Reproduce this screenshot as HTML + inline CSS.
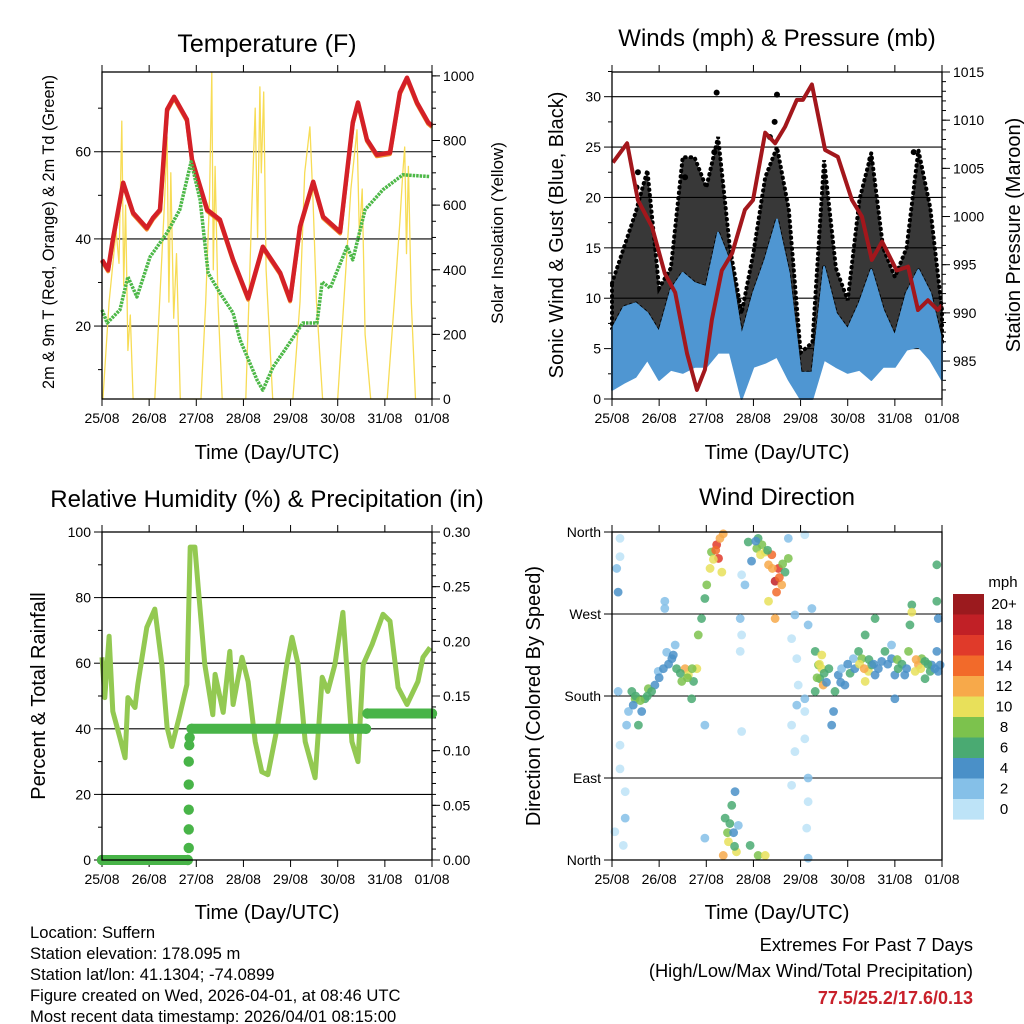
<!DOCTYPE html>
<html><head><meta charset="utf-8">
<style>
body{margin:0;background:#fff}
svg{display:block;font-family:"Liberation Sans",Arial,sans-serif}
</style></head>
<body>
<svg id="c" width="1024" height="1024" viewBox="0 0 1024 1024">
<rect x="0" y="0" width="1024" height="1024" fill="#fff"/>
<text x="267" y="52" font-size="25" text-anchor="middle">Temperature (F)</text>
<text x="777" y="46" font-size="24" text-anchor="middle">Winds (mph) &amp; Pressure (mb)</text>
<text x="267" y="507" font-size="24" text-anchor="middle">Relative Humidity (%) &amp; Precipitation (in)</text>
<text x="777" y="505" font-size="24" text-anchor="middle">Wind Direction</text>
<text x="267" y="459" font-size="20" text-anchor="middle">Time (Day/UTC)</text>
<text x="777" y="459" font-size="20" text-anchor="middle">Time (Day/UTC)</text>
<text x="267" y="919" font-size="20" text-anchor="middle">Time (Day/UTC)</text>
<text x="777" y="919" font-size="20" text-anchor="middle">Time (Day/UTC)</text>
<text transform="translate(54,232) rotate(-90)" font-size="16.3" text-anchor="middle">2m &amp; 9m T (Red, Orange) &amp; 2m Td (Green)</text>
<text transform="translate(503,233) rotate(-90)" font-size="17" text-anchor="middle">Solar Insolation (Yellow)</text>
<text transform="translate(563,235) rotate(-90)" font-size="20" text-anchor="middle">Sonic Wind &amp; Gust (Blue, Black)</text>
<text transform="translate(1020,235) rotate(-90)" font-size="20" text-anchor="middle">Station Pressure (Maroon)</text>
<text transform="translate(45,696) rotate(-90)" font-size="20" text-anchor="middle">Percent &amp; Total Rainfall</text>
<text transform="translate(540,696) rotate(-90)" font-size="20" text-anchor="middle">Direction (Colored By Speed)</text>
<text x="1003" y="587" font-size="15" text-anchor="middle">mph</text>
<g font-size="16.6">
<text x="30" y="938">Location: Suffern</text>
<text x="30" y="959">Station elevation: 178.095 m</text>
<text x="30" y="980">Station lat/lon: 41.1304; -74.0899</text>
<text x="30" y="1001">Figure created on Wed, 2026-04-01, at 08:46 UTC</text>
<text x="30" y="1022">Most recent data timestamp: 2026/04/01 08:15:00</text>
</g>
<text x="973" y="951" font-size="18.3" text-anchor="end">Extremes For Past 7 Days</text>
<text x="973" y="977" font-size="18.3" text-anchor="end">(High/Low/Max Wind/Total Precipitation)</text>
<text x="973" y="1004" font-size="18" font-weight="bold" fill="#c8202a" text-anchor="end">77.5/25.2/17.6/0.13</text>
</svg>
<script>
// ---------- data ----------
const dayLabels=['25/08','26/08','27/08','28/08','29/08','30/08','31/08','01/08'];
const tempTime=[0,0.13,0.23,0.45,0.66,0.95,1.08,1.23,1.38,1.53,1.80,1.91,2.23,2.50,2.78,3.10,3.41,3.78,3.99,4.20,4.48,4.69,5.05,5.32,5.43,5.62,5.83,6.11,6.32,6.47,6.68,6.92,7.0];
const tempF=[35.2,32.9,39.8,52.9,46,42.5,44.8,46.7,69.7,72.6,67.4,58.2,46.7,44.4,35.2,26.4,38.2,32.2,26,42.8,53.1,45.1,41.6,66.7,71.3,62.8,59.3,59.8,73.6,77,71.3,66.7,66];
const dewTime=[0,0.11,0.38,0.55,0.74,1.02,1.38,1.65,1.89,2.08,2.25,2.50,2.78,2.93,3.29,3.41,3.63,3.92,4.26,4.56,4.67,4.84,5.20,5.32,5.58,5.96,6.38,6.96];
const dewF=[23.7,20.7,23.7,31.3,26.7,35.9,41.4,46.7,57.7,49,32.2,27.6,23,16.8,7.6,5.3,10.6,15.2,20.7,20.7,30.1,28.7,38.2,35.2,46.7,51.3,54.7,54.3];
const solarTime=[0.02,0.15,0.30,0.36,0.42,0.46,0.50,0.55,0.60,0.66,1.12,1.25,1.33,1.38,1.42,1.46,1.52,1.58,1.66,2.10,2.20,2.28,2.33,2.36,2.40,2.46,2.55,3.05,3.18,3.25,3.30,3.35,3.38,3.43,3.48,3.55,3.62,4.05,4.20,4.30,4.41,4.48,4.55,4.68,5.00,5.15,5.28,5.41,5.46,5.52,5.58,5.70,6.05,6.20,6.32,6.38,6.42,6.46,6.50,6.56,6.65];
const solarW=[0,300,520,420,860,350,600,150,260,0,0,380,620,811,300,700,250,450,0,0,300,620,1009,400,720,300,0,0,600,900,500,966,700,950,400,200,0,0,300,700,842,600,300,0,0,350,650,833,500,650,200,0,0,300,550,700,780,450,720,300,0];
const windTime=[0,0.25,0.5,0.75,1,1.25,1.5,1.75,2,2.25,2.5,2.75,3,3.25,3.5,3.75,4,4.25,4.5,4.75,5,5.25,5.5,5.75,6,6.25,6.5,6.75,7];
const gustHigh=[11.5,15,18.5,22.7,11,13,24,24,21,26,15,8.5,14.5,22,25,18.8,4.6,5.6,23.7,13,9.8,19.8,24.4,15,12.1,15,24.7,19,8.8];
const windHigh=[6.9,9.1,9.5,8.5,6.6,10.8,12.5,11.5,11.1,16.5,13.5,6.2,10.5,13.8,17.8,12.5,2.6,2.6,13.1,8.5,6.9,9.5,12.8,8.8,6.2,10.5,12.8,10.5,5.6];
const windLow=[0.9,1.6,2.2,3.9,1.9,2.9,2.6,3.2,3.2,4.6,4.6,0,3.2,3.6,4.2,1.9,0,0,3.9,3.2,2.6,2.9,1.9,3.2,3.2,4.9,5.2,3.9,1.9];
const gustPeakTime=[2.22,2.17,3.50,3.45,5.48,6.40,0.55,0.52,3.35,1.55];
const gustPeak=[30.4,24.5,30.2,27.5,23.8,24.5,22.5,21,26,22];
const presTime=[0.02,0.32,0.55,0.85,1.12,1.34,1.59,1.80,1.97,2.12,2.33,2.55,2.82,2.99,3.25,3.46,3.67,3.92,4.05,4.24,4.52,4.79,5.09,5.30,5.51,5.73,6.04,6.28,6.49,6.70,6.91,7.0];
const presMb=[1005.6,1007.6,1001.7,998.9,994.1,992.1,985.8,982,984.1,989.3,994.4,996.2,1000.7,1001.7,1008.7,1007.6,1009.3,1012.1,1012.1,1013.7,1006.9,1006.2,1001.7,1000,995.5,997.4,994.4,994.8,990.3,991.3,990.3,990.8];
const rhTime=[0,0.06,0.15,0.23,0.38,0.49,0.55,0.70,0.76,0.95,1.12,1.27,1.38,1.48,1.65,1.80,1.87,1.97,2.04,2.18,2.35,2.40,2.57,2.71,2.78,2.97,3.10,3.25,3.39,3.52,3.73,3.92,4.03,4.16,4.31,4.52,4.67,4.79,4.94,5.11,5.30,5.43,5.54,5.73,5.96,6.11,6.28,6.47,6.70,6.81,6.96];
const rhPct=[61.8,49.5,68.2,45.3,37.3,31.2,49.5,46.5,53.5,70.9,76.5,59.6,40.4,34.6,44.3,53.5,95.4,95.4,83.2,59.6,44.3,56.6,45,63.6,47.4,61.8,54.4,36.1,26.9,26,41.3,59.6,67.9,59.6,36.1,25.1,55.7,51.4,59.6,75.5,36.1,30,59.6,65.7,74.9,72.8,52.6,47.4,54.4,61.8,64.8];
const precipTime=[0,1.82,1.84,1.84,1.84,1.84,1.84,1.85,1.86,1.90,5.60,5.63,7.0];
const precipIn=[0,0,0.011,0.028,0.046,0.069,0.09,0.105,0.112,0.12,0.12,0.134,0.134];
const dirTime=[0.10,0.13,0.17,0.17,0.13,0.17,0.17,0.28,0.28,0.24,0.06,0.31,0.35,0.42,0.49,0.63,0.70,0.56,0.77,0.91,0.84,0.98,1.09,1.16,1.12,1.12,1.27,1.34,1.37,1.48,1.55,1.62,1.73,1.69,1.80,1.83,1.90,1.97,2.01,2.08,2.11,2.22,2.26,2.29,2.33,2.36,2.40,2.47,2.54,2.61,2.68,2.64,2.93,3.10,3.25,2.36,1.97,1.97,2.72,2.75,2.72,2.75,2.75,2.82,2.89,2.96,3.10,3.18,3.25,3.32,3.39,3.46,3.49,3.53,3.60,3.67,3.74,3.46,3.32,3.07,3.74,3.88,3.81,3.92,3.95,3.92,3.81,3.88,4.09,3.81,4.16,4.13,4.16,4.09,4.24,4.16,4.09,4.09,4.16,4.31,4.38,4.45,4.41,4.31,4.48,4.45,4.73,4.70,4.66,4.80,4.94,4.87,5.12,5.23,5.30,5.44,5.37,5.51,5.58,5.37,5.72,5.79,5.93,6.00,6.07,6.00,6.21,6.29,6.32,6.36,6.36,6.50,6.57,6.43,6.64,6.78,6.89,6.92,6.96,6.89,6.89,6.92,5.93,5.58,6.64,6.75,
4.35,4.40,4.50,4.55,4.60,4.85,5.0,5.05,5.15,5.25,5.35,5.45,5.55,5.65,5.85,6.05,6.15,6.25,6.45,6.55,6.70,6.85,3.15,3.30,3.40,3.55,3.62,3.05,0.50,0.60,0.75,1.0,1.2,1.3,1.45,1.6,1.7,0.45,2.15,2.2,2.45,2.5,2.58,2.6];
const dirDeg=[320,294,353,333,185,126,100,75,46,16,31,148,163,185,177,163,177,148,188,192,185,207,210,228,284,276,221,236,210,196,210,203,196,177,210,247,265,287,302,320,338,346,331,353,316,358,46,20,60,75,38,9,16,5,5,5,24,148,265,247,229,141,313,302,349,328,353,346,338,324,335,306,294,320,302,316,331,265,284,342,353,269,243,221,192,170,148,119,133,82,64,35,2,357,276,258,177,163,90,229,214,225,199,185,192,210,185,163,148,203,192,210,221,229,221,207,196,214,265,247,218,229,221,203,210,177,203,229,258,280,272,214,221,207,199,214,229,207,214,324,284,265,236,203,218,207,
200,215,205,195,210,195,215,205,210,215,210,220,215,210,215,220,215,210,220,210,215,210,335,340,320,310,325,350,180,175,180,200,215,225,205,200,210,170,330,340,30,40,30,15];
const dirSpeed=[3,5,1,1,3,1,1,1,3,1,1,3,3,6,8,4,7,6,8,4,6,3,4,3,2,3,4,3,6,8,12,10,6,6,10,8,7,6,8,10,8,16,16,12,10,12,6,10,7,4,2,10,6,8,10,12,3,2,2,1,1,1,1,3,6,4,6,8,10,12,14,18,14,16,12,6,8,12,10,8,2,3,1,1,1,3,1,1,1,1,1,1,2,1,2,2,2,1,2,6,8,10,7,6,12,10,6,5,4,4,5,3,3,6,8,10,10,6,6,7,4,6,4,4,6,4,4,8,7,6,10,12,8,10,6,5,4,4,5,6,6,4,3,5,6,7,
8,10,6,4,6,4,4,6,4,10,12,6,4,4,4,8,6,4,12,10,6,4,10,6,12,14,8,4,6,8,6,4,4,4,6,8,8,4,10,14,8,6,4,6];
const cbLabels=['20+','18','16','14','12','10','8','6','4','2','0'];
const cbColors=['#9b1a1e','#c12026','#e03a2a','#f26a2a','#f7a94a','#e8e05a','#7cc24d','#4aaa72','#4a90c8','#85c0e8','#bde3f7'];

// ---------- helpers ----------
const NS='http://www.w3.org/2000/svg';
const svg=document.getElementById('c');
function mk(tag,attrs,parent){const e=document.createElementNS(NS,tag);for(const k in attrs)e.setAttribute(k,attrs[k]);(parent||svg).appendChild(e);return e;}
function lin(d0,d1,r0,r1){return v=>r0+(v-d0)/(d1-d0)*(r1-r0);}
function pts(xs,ys,sx,sy){return xs.map((t,i)=>sx(t).toFixed(1)+','+sy(ys[i]).toFixed(1)).join(' ');}

const P1={x0:102,x1:432,y0:72,y1:399}, P2={x0:612,x1:942,y0:72,y1:399}, P3={x0:102,x1:432,y0:532,y1:860}, P4={x0:612,x1:942,y0:532,y1:860};

function frame(p,name){
  const g=mk('g',{});
  
  
  const sx=lin(0,7,p.x0,p.x1);
  for(let i=0;i<dayLabels.length;i++){
    const x=sx(i);
    const t1=mk('line',{x1:x,x2:x,y1:p.y0,y2:p.y0-7,stroke:'#000','stroke-width':1},g);
    
    
    const t2=mk('line',{x1:x,x2:x,y1:p.y1,y2:p.y1+7,stroke:'#000','stroke-width':1},g);
    
    
    const lb=mk('text',{x:x,y:p.y1+24,'font-size':14,'text-anchor':'middle'},g);
    lb.textContent=dayLabels[i];
    
    
  }
  return g;
}
function yAxis(p,side,sy,major,labels,minor,grid){
  const g=mk('g',{});
  
  
  const x=side==='left'?p.x0:p.x1, dir=side==='left'?-1:1;
  minor.forEach(v=>{const y=sy(v);
    const t=mk('line',{x1:x,x2:x+dir*4,y1:y,y2:y,stroke:'#000','stroke-width':1},g);
    
    });
  major.forEach((v,i)=>{const y=sy(v);
    if(grid){const gl=mk('line',{x1:p.x0,x2:p.x1,y1:y,y2:y,stroke:'#000','stroke-width':1.1},g);
      
      }
    const t=mk('line',{x1:x,x2:x+dir*8,y1:y,y2:y,stroke:'#000','stroke-width':1},g);
    
    
    const lb=mk('text',{x:x+dir*11,y:y+5,'font-size':14,'text-anchor':side==='left'?'end':'start'},g);
    lb.textContent=labels[i];
    
    });
}
function box(p,name){const r=mk('rect',{x:p.x0,y:p.y0,width:p.x1-p.x0,height:p.y1-p.y0,fill:'none',stroke:'#000','stroke-width':1.3});
  
  }
function range(a,b,s){const r=[];for(let v=a;v<=b+1e-9;v+=s)r.push(+v.toFixed(4));return r;}

// ---------- panel 1: temperature ----------
{
  const sx=lin(0,7,P1.x0,P1.x1), sy=lin(3.26,78.3,P1.y1,P1.y0), ss=lin(0,1012,P1.y1,P1.y0);
  frame(P1,'temp-x-axis');
  yAxis(P1,'left',sy,[20,40,60],['20','40','60'],[10,30,50,70],true);
  yAxis(P1,'right',ss,[0,200,400,600,800,1000],['0','200','400','600','800','1000'],range(0,1000,50),false);
  const sol=mk('polyline',{points:pts(solarTime,solarW,sx,ss),fill:'none',stroke:'#f7dc55','stroke-width':1.3,'stroke-linejoin':'round'});
  
  
  const t9=mk('polyline',{points:pts(tempTime,tempF,sx,v=>sy(v)+1.5),fill:'none',stroke:'#f08a2a','stroke-width':4,'stroke-linejoin':'round'});
  
  
  const t2=mk('polyline',{points:pts(tempTime,tempF,sx,sy),fill:'none',stroke:'#d42027','stroke-width':4.5,'stroke-linejoin':'round'});
  
  
  const td=mk('polyline',{points:pts(dewTime,dewF,sx,sy),fill:'none',stroke:'#4db848','stroke-width':3.5,'stroke-dasharray':'2.5 1','stroke-linejoin':'round'});
  
  
  box(P1,'temp-plot-frame');
}
// ---------- panel 2: wind ----------
{
  const sx=lin(0,7,P2.x0,P2.x1), sy=lin(0,32.45,P2.y1,P2.y0), sp=lin(981.06,1015,P2.y1,P2.y0);
  frame(P2,'wind-x-axis');
  yAxis(P2,'left',sy,[0,5,10,15,20,25,30],['0','5','10','15','20','25','30'],range(2.5,32.5,5),true);
  yAxis(P2,'right',sp,[985,990,995,1000,1005,1010,1015],['985','990','995','1000','1005','1010','1015'],range(982,1014,1),false);
  const top=windTime.map((t,i)=>sx(t).toFixed(1)+','+sy(gustHigh[i]).toFixed(1));
  const mid=windTime.map((t,i)=>sx(t).toFixed(1)+','+sy(windHigh[i]).toFixed(1)).reverse();
  const gust=mk('polygon',{points:top.concat(mid).join(' '),fill:'#000','fill-opacity':0.78,stroke:'#000','stroke-width':4,'stroke-dasharray':'0.5 5','stroke-linecap':'round'});
  
  
  gustPeakTime.forEach((t,i)=>{const c=mk('circle',{cx:sx(t),cy:sy(gustPeak[i]),r:3,fill:'#000'});
    
    });
  const hi=windTime.map((t,i)=>sx(t).toFixed(1)+','+sy(windHigh[i]).toFixed(1));
  const lo=windTime.map((t,i)=>sx(t).toFixed(1)+','+sy(windLow[i]).toFixed(1)).reverse();
  const wb=mk('polygon',{points:hi.concat(lo).join(' '),fill:'#4f96d2',stroke:'#4f96d2','stroke-width':2,'stroke-linejoin':'round'});
  
  
  const pr=mk('polyline',{points:pts(presTime,presMb,sx,sp),fill:'none',stroke:'#a3171c','stroke-width':4,'stroke-linejoin':'round'});
  
  
  box(P2,'wind-plot-frame');
}
// ---------- panel 3: RH ----------
{
  const sx=lin(0,7,P3.x0,P3.x1), sy=lin(0,100,P3.y1,P3.y0), sr=lin(0,0.30,P3.y1,P3.y0);
  frame(P3,'rh-x-axis');
  yAxis(P3,'left',sy,[0,20,40,60,80,100],['0','20','40','60','80','100'],[10,30,50,70,90],true);
  yAxis(P3,'right',sr,[0,0.05,0.1,0.15,0.2,0.25,0.3],['0.00','0.05','0.10','0.15','0.20','0.25','0.30'],range(0,0.3,0.01),false);
  const rh=mk('polyline',{points:pts(rhTime,rhPct,sx,sy),fill:'none',stroke:'#93c952','stroke-width':5,'stroke-linejoin':'round'});
  
  
  for(let i=0;i<precipTime.length;i++){
    if(i>0&&precipIn[i]===precipIn[i-1]){
      const l=mk('line',{x1:sx(precipTime[i-1]),x2:sx(precipTime[i]),y1:sr(precipIn[i]),y2:sr(precipIn[i]),stroke:'#48b448','stroke-width':10,'stroke-linecap':'round'});
      
      
    }
    const c=mk('circle',{cx:sx(precipTime[i]),cy:sr(precipIn[i]),r:5.2,fill:'#48b448'});
    
    
  }
  box(P3,'rh-plot-frame');
}
// ---------- panel 4: wind direction ----------
{
  const sx=lin(0,7,P4.x0,P4.x1), sy=lin(0,360,P4.y1,P4.y0);
  frame(P4,'dir-x-axis');
  yAxis(P4,'left',sy,[0,90,180,270,360],['North','East','South','West','North'],[],true);
  dirTime.forEach((t,i)=>{
    const idx=Math.max(0,10-Math.min(10,Math.floor(dirSpeed[i]/2)));
    const c=mk('circle',{cx:sx(t),cy:sy(dirDeg[i]),r:4.4,fill:cbColors[idx],'fill-opacity':0.85});
    
    
  });
  box(P4,'dir-plot-frame');
  cbLabels.forEach((lab,i)=>{
    const r=mk('rect',{x:953,y:594+i*20.5,width:31,height:20.6,fill:cbColors[i]});
    
    
    const tx=mk('text',{x:1004,y:609+i*20.5,'font-size':15,'text-anchor':'middle'});
    tx.textContent=lab;
    
    
  });
}
</script>
</body></html>
